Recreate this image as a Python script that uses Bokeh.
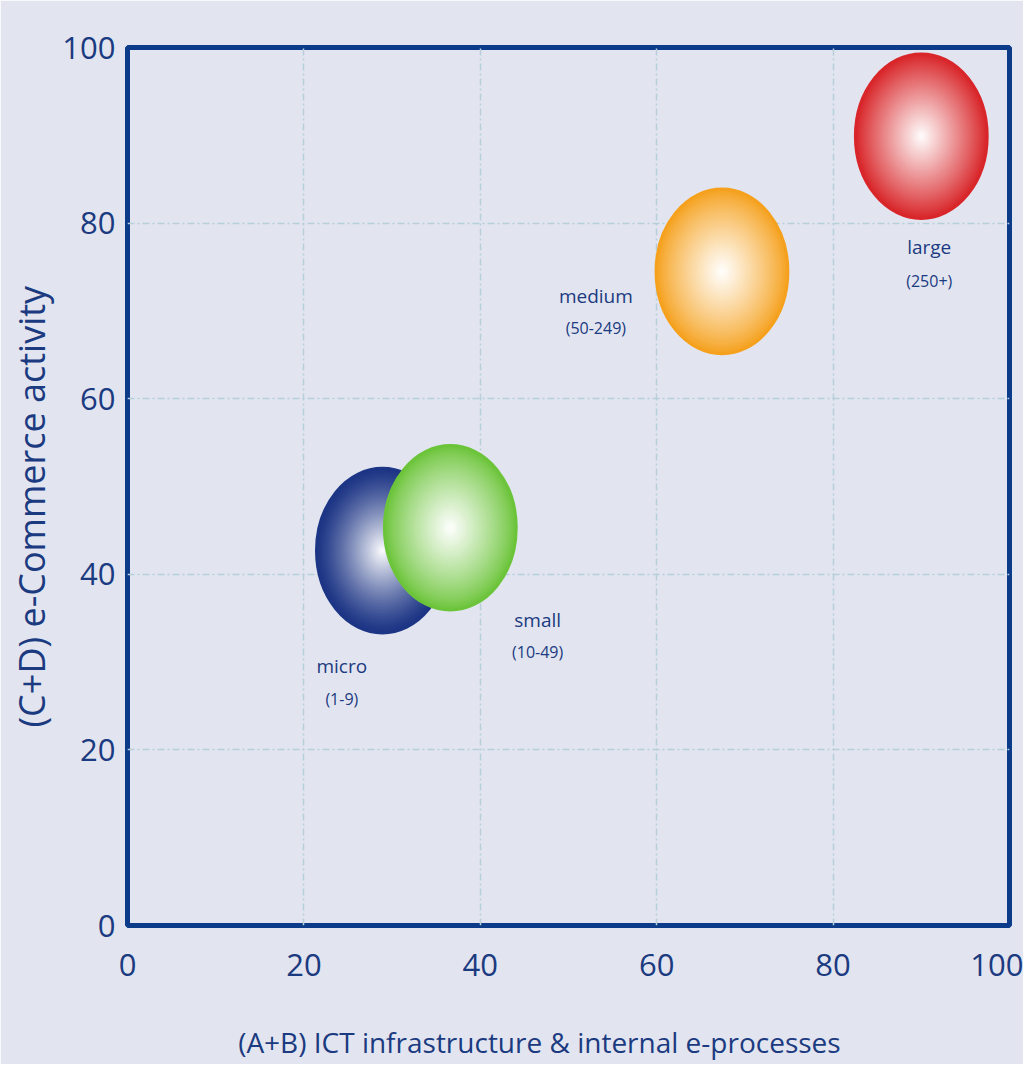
import numpy as np
from bokeh.plotting import figure
from bokeh.models import Range1d, FixedTicker, ColumnDataSource, Title, Label
from bokeh.embed import file_html
from bokeh.resources import INLINE
from bokeh.core.properties import value

# ---- data ----
groups = ["micro", "small", "medium", "large"]
size_bands = ["(1-9)", "(10-49)", "(50-249)", "(250+)"]
ict_score = [28.9, 36.6, 67.4, 90.0]        # (A+B) x
ecom_score = [42.7, 45.3, 74.5, 89.9]       # (C+D) y
label_x = [24.3, 46.5, 53.1, 90.9]
label_y = [29.5, 34.8, 71.7, 77.3]
band_y = [25.8, 31.2, 68.0, 73.4]
ticks = [0, 20, 40, 60, 80, 100]
x_title = "(A+B) ICT infrastructure & internal e-processes"
y_title = "(C+D) e-Commerce activity"

# ---- style ----
edge_colors = ["#1d3585", "#6cc43a", "#f5a11e", "#d8262a"]
gamma = [1.25, 0.85, 0.85, 0.95]
bubble_w = 15.0
bubble_h = 18.8
BG = "#e2e5f0"
NAVY = "#0c3b8a"
TEXT = "#1b3a80"
FONT = "Open Sans"


def hex2rgb(h):
    h = h.lstrip("#")
    return np.array([int(h[i:i + 2], 16) for i in (0, 2, 4)], dtype=float)


def rgb2hex(c):
    c = np.clip(np.round(c), 0, 255).astype(int)
    return "#%02x%02x%02x" % tuple(c)


N = 45

p = figure(width=1023, height=1064, output_backend="svg", toolbar_location=None,
           x_range=Range1d(0, 100), y_range=Range1d(0, 100),
           min_border_left=125, min_border_right=14, min_border_top=47,
           min_border_bottom=139)
p.background_fill_color = BG
p.border_fill_color = BG
p.outline_line_color = NAVY
p.outline_line_width = 5

for grid in (p.xgrid, p.ygrid):
    grid.ticker = FixedTicker(ticks=[20, 40, 60, 80])
    grid.grid_line_color = "#b6cfd8"
    grid.grid_line_width = 1.5
    grid.grid_line_dash = "7 3 2 3"

for ax in (p.xaxis, p.yaxis):
    ax.ticker = FixedTicker(ticks=ticks)
    ax.axis_line_color = None
    ax.major_tick_line_color = None
    ax.minor_tick_line_color = None
    ax.major_label_text_font = FONT
    ax.major_label_text_font_size = "31px"
    ax.major_label_text_color = TEXT

p.xaxis.major_label_standoff = 22
p.yaxis.major_label_standoff = 6

# bubbles: concentric rings give the radial shading
for i in range(len(groups)):
    base = hex2rgb(edge_colors[i])
    white = np.array([255.0, 255.0, 255.0])
    xs, ys, ws, hs, cs = [], [], [], [], []
    for k in range(N):
        s = 1.0 - k / N
        f = (1.0 - s) ** gamma[i]
        xs.append(ict_score[i])
        ys.append(ecom_score[i])
        ws.append(bubble_w * s)
        hs.append(bubble_h * s)
        cs.append(rgb2hex(base * (1 - f) + white * f))
    sub = ColumnDataSource(dict(x=xs, y=ys, w=ws, h=hs, c=cs))
    p.ellipse(x="x", y="y", width="w", height="h", source=sub,
              fill_color="c", line_color=None)
    p.ellipse(x=[ict_score[i]], y=[ecom_score[i]], width=bubble_w, height=bubble_h,
              fill_color=None, line_color=edge_colors[i], line_width=2.5)

labels = ColumnDataSource(dict(x=label_x, y=label_y, t=groups))
bands = ColumnDataSource(dict(x=label_x, y=band_y, t=size_bands))
p.text(x="x", y="y", text="t", source=labels, text_font=value(FONT),
       text_font_size="19px", text_color=TEXT, text_align="center",
       text_baseline="middle")
p.text(x="x", y="y", text="t", source=bands, text_font=value(FONT),
       text_font_size="16px", text_color=TEXT, text_align="center",
       text_baseline="middle")

# axis titles
p.add_layout(Label(x=46.7, y=-13.3, text=x_title, text_font=FONT,
                   text_font_size="28px", text_color=TEXT, text_align="center",
                   text_baseline="middle"), "below")
p.add_layout(Title(text=y_title, align="left", offset=198, standoff=8,
                   text_font=FONT, text_font_size="36px",
                   text_font_style="normal", text_color=TEXT), "left")

open("out.html", "w").write(file_html(p, INLINE))
